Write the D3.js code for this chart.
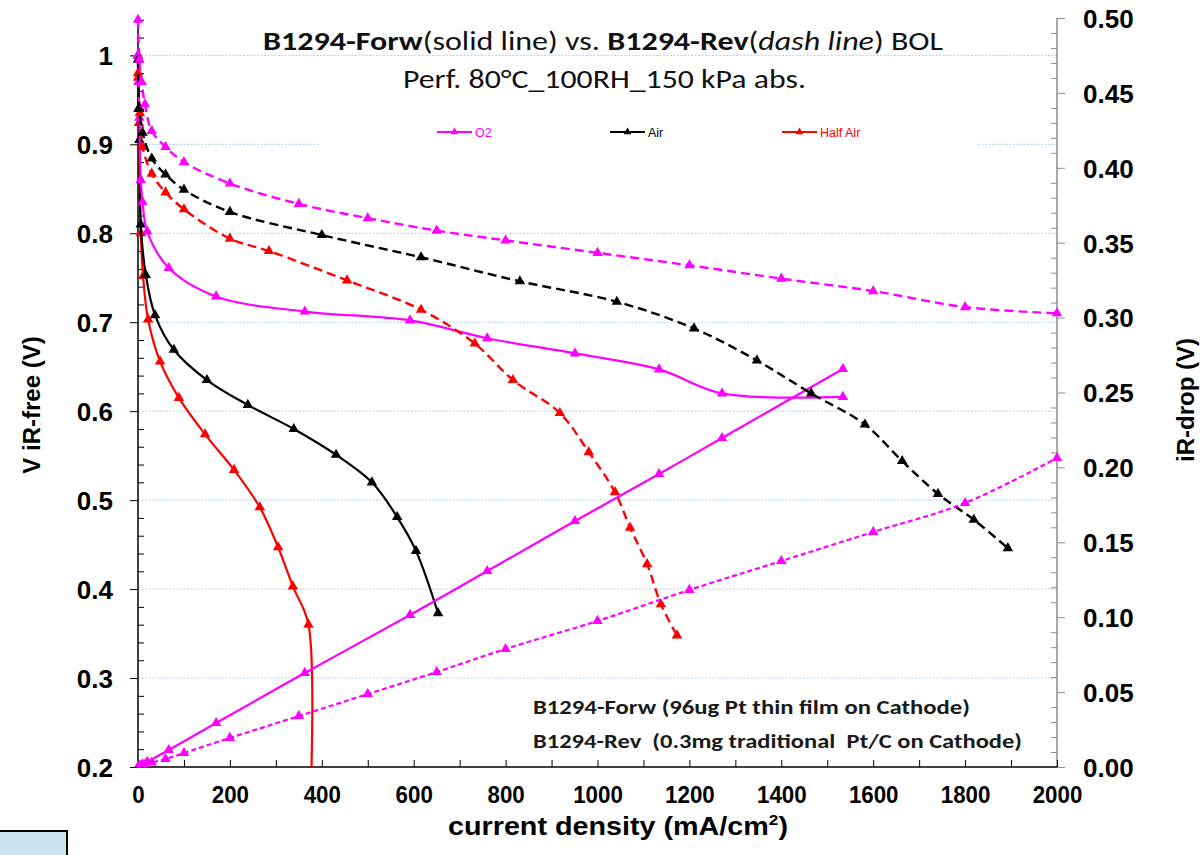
<!DOCTYPE html>
<html>
<head>
<meta charset="utf-8">
<script src="https://cdn.jsdelivr.net/npm/d3@7"></script>
<style>
  html, body { margin: 0; padding: 0; background: #ffffff; }
  svg { display: block; }
  .ax text { font-family: "Liberation Sans", Arial, sans-serif; font-weight: bold; fill: #000; }
</style>
</head>
<body>
<script>
// ---- Polarization data (current density in mA/cm2, voltage in V) ----
// B1294-Forw (solid lines)
const curO2Forw   = [0, 1, 3, 6, 10, 20, 67, 170, 363, 592, 760, 951, 1134, 1271, 1534];
const vO2Forw     = [1.00, 0.97, 0.93, 0.86, 0.835, 0.802, 0.761, 0.729, 0.712, 0.702, 0.682, 0.665, 0.647, 0.620, 0.616];
const irO2Forw    = [0, 0.0002, 0.0005, 0.001, 0.0017, 0.0034, 0.0113, 0.0294, 0.0628, 0.1015, 0.1308, 0.1642, 0.1956, 0.2196, 0.2657];

const curAirForw  = [0, 1, 3, 6, 17, 37, 78, 150, 239, 339, 431, 509, 564, 605, 653];
const vAirForw    = [1.00, 0.94, 0.905, 0.81, 0.753, 0.708, 0.669, 0.635, 0.607, 0.580, 0.551, 0.520, 0.481, 0.443, 0.373];

const curHalfForw = [0, 2, 6, 11, 22, 48, 89, 146, 209, 265, 305, 337, 371, 371];
const vHalfForw   = [0.975, 0.924, 0.80, 0.752, 0.703, 0.656, 0.615, 0.574, 0.534, 0.492, 0.447, 0.403, 0.360, 0.10];

// B1294-Rev (dashed lines)
const curO2Rev    = [0, 3, 8, 15, 30, 60, 100, 200, 350, 500, 650, 800, 1000, 1200, 1400, 1600, 1800, 2000];
const vO2Rev      = [1.04, 0.995, 0.97, 0.945, 0.915, 0.897, 0.880, 0.856, 0.833, 0.817, 0.803, 0.792, 0.778, 0.764, 0.749, 0.735, 0.717, 0.710];
const irO2Rev     = [0, 0.0003, 0.0008, 0.0015, 0.003, 0.0053, 0.0093, 0.0194, 0.034, 0.0487, 0.0634, 0.0788, 0.0975, 0.1182, 0.1375, 0.1569, 0.1762, 0.2063];

const curAirRev   = [0, 3, 10, 30, 60, 100, 200, 400, 616, 831, 1042, 1210, 1347, 1465, 1582, 1663, 1741, 1819, 1893];
const vAirRev     = [0.995, 0.94, 0.913, 0.884, 0.866, 0.849, 0.824, 0.798, 0.773, 0.746, 0.723, 0.693, 0.657, 0.620, 0.585, 0.544, 0.507, 0.478, 0.446];

const curHalfRev  = [0, 4, 10, 30, 60, 100, 200, 285, 455, 616, 733, 816, 918, 981, 1038, 1071, 1108, 1138, 1173];
const vHalfRev    = [0.98, 0.935, 0.897, 0.867, 0.846, 0.827, 0.794, 0.780, 0.747, 0.714, 0.676, 0.635, 0.598, 0.554, 0.509, 0.469, 0.428, 0.383, 0.348];

// Axis ticks
const xTicks      = [0, 200, 400, 600, 800, 1000, 1200, 1400, 1600, 1800, 2000];
const yLeftTicks  = [0.2, 0.3, 0.4, 0.5, 0.6, 0.7, 0.8, 0.9, 1.0];
const yRightTicks = [0, 0.05, 0.10, 0.15, 0.20, 0.25, 0.30, 0.35, 0.40, 0.45, 0.50];

const legendNames = ["O2", "Air", "Half Air"];
const COLORS = { O2: "#ff00ff", Air: "#000000", Half: "#ff0000" };

// ---- Layout ----
const W = 1204, H = 855;
const plot = { left: 138, right: 1057, top: 18, bottom: 767 };

const x  = d3.scaleLinear().domain([0, 2000]).range([plot.left, plot.right]);
const yL = d3.scaleLinear().domain([0.2, 1.042]).range([plot.bottom, plot.top]);
const yR = d3.scaleLinear().domain([0, 0.5]).range([plot.bottom, plot.top]);

const svg = d3.select("body").append("svg").attr("width", W).attr("height", H);

svg.append("defs").append("clipPath").attr("id", "plotClip")
  .append("rect")
  .attr("x", plot.left - 8).attr("y", plot.top - 8)
  .attr("width", plot.right - plot.left + 16).attr("height", plot.bottom - plot.top + 8);

// Horizontal gridlines at the major voltage ticks
svg.append("g").selectAll("line")
  .data(yLeftTicks.filter(d => d > 0.2))
  .join("line")
  .attr("x1", plot.left).attr("x2", plot.right)
  .attr("y1", d => yL(d)).attr("y2", d => yL(d))
  .attr("stroke", "#afd0ea").attr("stroke-width", 1).attr("stroke-dasharray", "2,1.5");

// ---- Axes ----
const leftAxis = svg.append("g").attr("class", "ax").attr("transform", `translate(${plot.left},0)`)
  .call(d3.axisLeft(yL).tickValues(yLeftTicks).tickSize(8).tickPadding(17).tickSizeOuter(0)
    .tickFormat(d => d3.format(".1f")(d).replace(/\.0$/, "")));
leftAxis.selectAll("text").attr("font-size", 26).attr("dy", "0.36em");
leftAxis.select(".domain").attr("stroke", "#000").attr("stroke-width", 1.5)
  .attr("d", `M0,${plot.bottom}V${plot.top}`);

// minor ticks on the voltage axis, pointing into the plot
svg.append("g").attr("transform", `translate(${plot.left},0)`)
  .call(d3.axisRight(yL).tickValues(d3.range(0.22, 1.041, 0.02).filter(v => Math.abs(v * 10 - Math.round(v * 10)) > 1e-6))
    .tickSize(6).tickFormat(""))
  .call(g => g.select(".domain").remove())
  .selectAll("line").attr("stroke", "#000");

const rightAxis = svg.append("g").attr("class", "ax").attr("transform", `translate(${plot.right},0)`)
  .call(d3.axisRight(yR).tickValues(yRightTicks).tickSize(8).tickPadding(18).tickSizeOuter(0)
    .tickFormat(d3.format(".2f")));
rightAxis.selectAll("text").attr("font-size", 26).attr("dy", "0.36em");
rightAxis.selectAll("line").attr("stroke", "#8c8c8c");
rightAxis.select(".domain").attr("stroke", "#8c8c8c").attr("stroke-width", 1.5)
  .attr("d", `M0,${plot.bottom}V${plot.top}`);

// minor ticks on the iR-drop axis
svg.append("g").attr("transform", `translate(${plot.right},0)`)
  .call(d3.axisLeft(yR).tickValues(d3.range(0.01, 0.5, 0.01).filter(v => Math.abs(v * 20 - Math.round(v * 20)) > 1e-6))
    .tickSize(6).tickFormat(""))
  .call(g => g.select(".domain").remove())
  .selectAll("line").attr("stroke", "#8c8c8c");

const bottomAxis = svg.append("g").attr("class", "ax").attr("transform", `translate(0,${plot.bottom})`)
  .call(d3.axisBottom(x).tickValues(d3.range(0, 2001, 100)).tickSize(-7).tickPadding(19).tickSizeOuter(0)
    .tickFormat(d => xTicks.includes(d) ? d : ""));
// slightly condensed tick labels
bottomAxis.selectAll(".tick text").attr("font-size", 24).attr("transform", "scale(0.93,1)");
bottomAxis.selectAll("line").attr("stroke", "#000");
bottomAxis.select(".domain").attr("stroke", "#000").attr("stroke-width", 1.5)
  .attr("d", `M${plot.left},0H${plot.right}`);

// ---- Series ----
const curve = d3.curveCatmullRom.alpha(0.5);
const series = [
  { cur: curHalfForw, val: vHalfForw, y: yL, color: COLORS.Half, dash: null, width: 2.2 },
  { cur: curAirForw,  val: vAirForw,  y: yL, color: COLORS.Air,  dash: null, width: 2.2 },
  { cur: curO2Forw,   val: vO2Forw,   y: yL, color: COLORS.O2,   dash: null, width: 2.2 },
  { cur: curO2Forw,   val: irO2Forw,  y: yR, color: COLORS.O2,   dash: null, width: 2.2 },
  { cur: curHalfRev,  val: vHalfRev,  y: yL, color: COLORS.Half, dash: "9,5", width: 2.4 },
  { cur: curAirRev,   val: vAirRev,   y: yL, color: COLORS.Air,  dash: "9,5", width: 2.4 },
  { cur: curO2Rev,    val: vO2Rev,    y: yL, color: COLORS.O2,   dash: "9,5", width: 2.4 },
  { cur: curO2Rev,    val: irO2Rev,   y: yR, color: COLORS.O2,   dash: "5,3", width: 2.2 }
];

const dataLayer = svg.append("g").attr("clip-path", "url(#plotClip)");
const tri = d3.symbol().type(d3.symbolTriangle).size(48);

series.forEach(s => {
  const pts = s.cur.map((c, i) => [c, s.val[i]]);
  const line = d3.line().x(d => x(d[0])).y(d => s.y(d[1])).curve(curve);
  dataLayer.append("path")
    .attr("d", line(pts))
    .attr("fill", "none")
    .attr("stroke", s.color)
    .attr("stroke-width", s.width)
    .attr("stroke-dasharray", s.dash);
  dataLayer.append("g").selectAll("path")
    .data(pts)
    .join("path")
    .attr("d", tri)
    .attr("transform", d => `translate(${x(d[0])},${s.y(d[1])})`)
    .attr("fill", s.color);
});

// ---- Legend ----
const legend = svg.append("g");
legend.append("rect").attr("x", 318).attr("y", 112).attr("width", 660).attr("height", 46).attr("fill", "#ffffff");
const legendItems = [
  { name: legendNames[0], color: COLORS.O2,   x0: 437 },
  { name: legendNames[1], color: COLORS.Air,  x0: 610 },
  { name: legendNames[2], color: COLORS.Half, x0: 782 }
];
legendItems.forEach(it => {
  legend.append("line").attr("x1", it.x0).attr("x2", it.x0 + 35).attr("y1", 132).attr("y2", 132)
    .attr("stroke", it.color).attr("stroke-width", 2);
  legend.append("path").attr("d", d3.symbol().type(d3.symbolTriangle).size(26)())
    .attr("transform", `translate(${it.x0 + 17.5},132)`).attr("fill", it.color);
  legend.append("text").attr("x", it.x0 + 38).attr("y", 136.5)
    .attr("font-family", "'Liberation Sans', Arial, sans-serif").attr("font-size", 12.5)
    .attr("fill", it.color).text(it.name);
});

// ---- Titles ----
const titleFont = "Carlito, Lato, 'Open Sans', sans-serif";
const t1 = svg.append("text").attr("x", 263).attr("y", 50)
  .attr("font-family", titleFont).attr("font-size", 27).attr("fill", "#111")
  .attr("textLength", 680).attr("lengthAdjust", "spacingAndGlyphs");
t1.append("tspan").attr("font-weight", "bold").text("B1294-Forw");
t1.append("tspan").text("(solid line) vs. ");
t1.append("tspan").attr("font-weight", "bold").text("B1294-Rev");
t1.append("tspan").text("(");
t1.append("tspan").attr("font-style", "italic").text("dash line");
t1.append("tspan").text(") BOL");

svg.append("text").attr("x", 403).attr("y", 88)
  .attr("font-family", titleFont).attr("font-size", 27).attr("fill", "#111")
  .attr("textLength", 403).attr("lengthAdjust", "spacingAndGlyphs")
  .text("Perf. 80°C_100RH_150 kPa abs.");

svg.append("text").attr("x", 533).attr("y", 714)
  .attr("font-family", titleFont).attr("font-size", 21).attr("font-weight", "bold").attr("fill", "#1a1a1a")
  .attr("textLength", 437).attr("lengthAdjust", "spacingAndGlyphs")
  .text("B1294-Forw (96ug Pt thin film on Cathode)");
svg.append("text").attr("x", 533).attr("y", 748)
  .attr("font-family", titleFont).attr("font-size", 21).attr("font-weight", "bold").attr("fill", "#1a1a1a")
  .attr("textLength", 489).attr("lengthAdjust", "spacingAndGlyphs").attr("xml:space", "preserve")
  .text("B1294-Rev  (0.3mg traditional  Pt/C on Cathode)");

// Axis titles
const axFont = "'Liberation Sans', Arial, sans-serif";
svg.append("text").attr("transform", "translate(40,405) rotate(-90)")
  .attr("text-anchor", "middle").attr("font-family", axFont).attr("font-weight", "bold")
  .attr("font-size", 24).text("V iR-free (V)");
svg.append("text").attr("transform", "translate(1194,400) rotate(-90)")
  .attr("text-anchor", "middle").attr("font-family", axFont).attr("font-weight", "bold")
  .attr("font-size", 24).text("iR-drop (V)");
const xt = svg.append("text").attr("x", 448).attr("y", 835)
  .attr("font-family", axFont).attr("font-weight", "bold").attr("font-size", 25)
  .attr("textLength", 340).attr("lengthAdjust", "spacingAndGlyphs");
xt.append("tspan").text("current density (mA/cm");
xt.append("tspan").attr("font-size", 15).attr("dy", -10).text("2");
xt.append("tspan").attr("dy", 10).text(")");

// Small panel at the lower-left corner
svg.append("rect").attr("x", -2).attr("y", 831).attr("width", 69).attr("height", 30)
  .attr("fill", "#c8e3ec").attr("stroke", "#000").attr("stroke-width", 2);
</script>
</body>
</html>
